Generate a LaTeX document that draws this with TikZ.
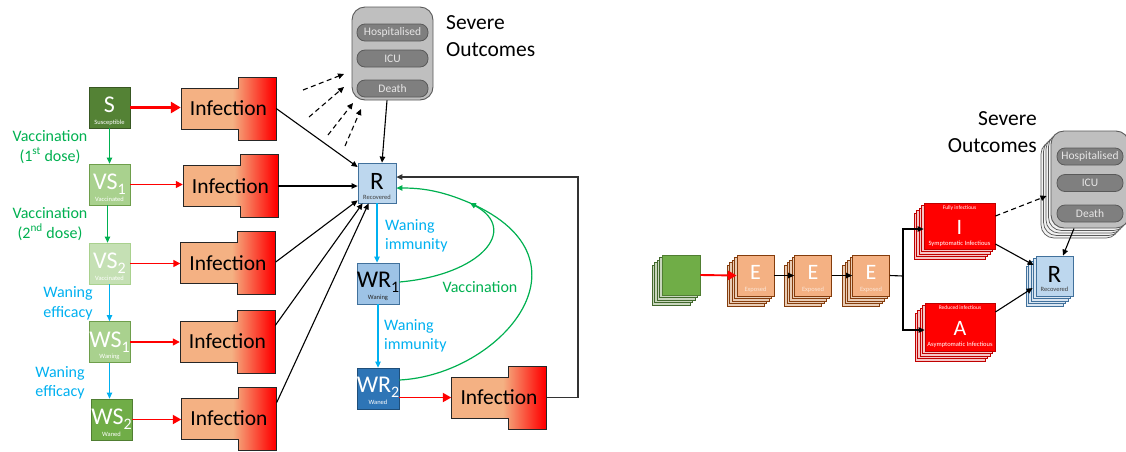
\documentclass[tikz,border=0pt]{standalone}
\usepackage{fontspec}
\setmainfont{Carlito}
\usetikzlibrary{arrows.meta,calc}
\definecolor{vgreen}{HTML}{00B050}
\definecolor{wblue}{HTML}{00B0F0}
\definecolor{infpeach}{HTML}{F4B183}
\definecolor{cS}{HTML}{548235}\definecolor{cSb}{HTML}{385723}
\definecolor{cV1}{HTML}{A9D18E}\definecolor{cV1b}{HTML}{6E9E4B}
\definecolor{cV2}{HTML}{C5E0B4}\definecolor{cV2b}{HTML}{A9D18E}
\definecolor{cW1}{HTML}{A9D18E}
\definecolor{cW2}{HTML}{70AD47}\definecolor{cW2b}{HTML}{507E32}
\definecolor{cR}{HTML}{BDD7EE}\definecolor{cRb}{HTML}{41719C}
\definecolor{cWR1}{HTML}{9DC3E6}
\definecolor{cWR2}{HTML}{2E75B6}\definecolor{cWR2b}{HTML}{1F4E79}
\definecolor{sevfill}{HTML}{BFBFBF}\definecolor{sevdraw}{HTML}{595959}
\definecolor{pillfill}{HTML}{7F7F7F}\definecolor{pilltext}{HTML}{E7E6E6}
\definecolor{ebrown}{HTML}{843C0C}
\definecolor{gstackf}{HTML}{C9D6BD}\definecolor{gstackb}{HTML}{41682C}
\definecolor{estack}{HTML}{E9CDB6}
\definecolor{istack}{HTML}{F6C6C6}\definecolor{ired}{HTML}{C00000}
\definecolor{rstack}{HTML}{DAE6F2}
\definecolor{sevstack}{HTML}{F2F2F2}
\definecolor{etext}{HTML}{FBE5D6}
\pgfdeclarehorizontalshading{infgrad}{100bp}{color(0bp)=(infpeach); color(52bp)=(infpeach); color(74bp)=(red); color(100bp)=(red)}
\newcommand\mysub[1]{\raisebox{-5pt}{\fontsize{16}{16}\selectfont #1}}
\newcommand\infshape[3]{%
  \begin{scope}[shift={(#2,#3)}]
    \shadedraw[shading=infgrad, draw=black!85, line width=0.9pt] (-47.5,-20.5) -- (9.5,-20.5) -- (9.5,-31.5) -- (47.5,-31.5) -- (47.5,31.5) -- (9.5,31.5) -- (9.5,20.5) -- (-47.5,20.5) -- cycle;
  \end{scope}
  \node[infn] (#1) at (#2,#3) {Infection};}
\newcommand\stk[5]{%
  \foreach \k in {4,3,2,1}{\path[#5] ({#1-2.5*\k-#3/2},{#2+2.5*\k-#4/2}) rectangle ({#1-2.5*\k+#3/2},{#2+2.5*\k+#4/2});}}
\begin{document}
\begin{tikzpicture}[x=1pt,y=-1pt,
  box/.style={draw, line width=0.8pt, minimum width=41pt, minimum height=41pt, inner sep=0pt},
  bigl/.style={font=\fontsize{24}{24}\selectfont, inner sep=0pt, anchor=base},
  tinyl/.style={font=\fontsize{6.5}{7}\selectfont, inner sep=0pt, anchor=base},
  lbl/.style={font=\fontsize{16}{19.5}\selectfont, align=center, inner sep=0pt},
  infn/.style={minimum width=95pt, minimum height=41pt, inner sep=0pt, font=\fontsize{21.5}{24}\selectfont},
  redarr/.style={draw=red, line width=1.4pt, -{Triangle[length=7pt,width=7pt]}},
  redthick/.style={draw=red, line width=2.6pt, -{Triangle[length=10pt,width=11pt]}},
  redmid/.style={draw=red, line width=1.9pt, -{Triangle[length=8.5pt,width=9pt]}},
  blk/.style={draw=black, line width=1.1pt, -{Triangle[length=6pt,width=5.5pt]}},
  dasharr/.style={draw=black, line width=1.1pt, dash pattern=on 5pt off 3.5pt, -{Triangle[length=6pt,width=5.5pt]}},
  garr/.style={draw=vgreen, line width=1.2pt, -{Triangle[length=6pt,width=5.5pt]}},
  barr/.style={draw=wblue, line width=1.2pt, -{Triangle[length=6pt,width=5.5pt]}},
  sev/.style={draw=sevdraw, fill=sevfill, line width=0.9pt, rounded corners=13pt, inner sep=0pt},
  pill/.style={draw=sevdraw, fill=pillfill, line width=0.8pt, rounded corners=8pt, minimum height=17pt, inner sep=0pt, text=pilltext, font=\fontsize{11.5}{12}\selectfont},
  sevt/.style={font=\fontsize{21.5}{27}\selectfont, inner sep=0pt},
]
\useasboundingbox (0,0) rectangle (1126,451);

% ---------- left panel: compartments ----------
\node[box, fill=cS, draw=cSb] (S) at (109.5,107.5) {};
\node[bigl, text=white] (Sl) at ([yshift=-4.5pt]S.center) {S};
\node[tinyl, text=white] (St) at ([yshift=4pt]S.south) {Susceptible};

\node[box, fill=cV1, draw=cV1b] (VS1) at (109.5,184.5) {};
\node[bigl, text=white] (VS1l) at ([yshift=-5pt]VS1.center) {VS\mysub{1}};
\node[tinyl, text=white] (VS1t) at ([yshift=4pt]VS1.south) {Vaccinated};

\node[box, fill=cV2, draw=cV2b] (VS2) at (109.5,263.5) {};
\node[bigl, text=white] (VS2l) at ([yshift=-5pt]VS2.center) {VS\mysub{2}};
\node[tinyl, text=white] (VS2t) at ([yshift=4pt]VS2.south) {Vaccinated};

\node[box, fill=cW1, draw=cV1b] (WS1) at (109.5,342) {};
\node[bigl, text=white] (WS1l) at ([yshift=-5pt]WS1.center) {WS\mysub{1}};
\node[tinyl, text=white] (WS1t) at ([yshift=4pt]WS1.south) {Waning};

\node[box, fill=cW2, draw=cW2b] (WS2) at (111.5,419.5) {};
\node[bigl, text=white] (WS2l) at ([yshift=-5pt]WS2.center) {WS\mysub{2}};
\node[tinyl, text=white] (WS2t) at ([yshift=4pt]WS2.south) {Waned};

\node[box, minimum width=38pt, minimum height=40pt, fill=cR, draw=cRb] (R) at (377,183) {};
\node[bigl, font=\fontsize{25}{25}\selectfont] (Rl) at ([yshift=-6pt]R.center) {R};
\node[tinyl, text=black!75] (Rt) at ([yshift=3.5pt]R.south) {Recovered};

\node[box, minimum width=42pt, fill=cWR1, draw=cRb] (WR1) at (378,283.5) {};
\node[bigl] (WR1l) at ([yshift=-3.5pt]WR1.center) {WR\mysub{1}};
\node[tinyl, text=black!85] (WR1t) at ([yshift=4.5pt]WR1.south) {Waning};

\node[box, minimum width=42pt, fill=cWR2, draw=cWR2b] (WR2) at (378,388.5) {};
\node[bigl, text=white] (WR2l) at ([yshift=-3.5pt]WR2.center) {WR\mysub{2}};
\node[tinyl, text=white] (WR2t) at ([yshift=4.5pt]WR2.south) {Waned};

% severe outcomes (left)
\node[sev, minimum width=81pt, minimum height=93pt] (sev1) at (392.5,53.5) {};
\node[pill, minimum width=71pt] (h1) at (392.5,32.5) {Hospitalised};
\node[pill, minimum width=71pt] (i1) at (392.5,58.5) {ICU};
\node[pill, minimum width=71pt] (d1) at (392.5,88.5) {Death};
\node[sevt, anchor=west, align=left] (sevlab1) at (446,36.5) {Severe\\Outcomes};

% infections
\infshape{inf1}{228.5}{108.5}
\infshape{inf2}{230.5}{186}
\infshape{inf3}{228}{263}
\infshape{inf4}{227.5}{341.5}
\infshape{inf5}{229}{418.5}
\infshape{inf6}{499}{397.5}

% labels
\node[lbl, text=vgreen] (v1) at (50,147) {Vaccination\\(1\textsuperscript{st} dose)};
\node[lbl, text=vgreen] (v2) at (50,224) {Vaccination\\(2\textsuperscript{nd} dose)};
\node[lbl, text=wblue] (we1) at (68,303.5) {Waning\\efficacy};
\node[lbl, text=wblue] (we2) at (60,383) {Waning\\efficacy};
\node[lbl, text=wblue, anchor=west, align=left] (wi1) at (385,236) {Waning\\immunity};
\node[lbl, text=wblue, anchor=west, align=left] (wi2) at (384,336) {Waning\\immunity};
\node[lbl, text=vgreen] (vlab) at (480,287) {Vaccination};

% arrows left
\draw[redthick] (S.east) -- (S.east -| inf1.west);
\draw[redarr] (VS1.east) -- (VS1.east -| inf2.west);
\draw[redarr] (VS2.east) -- (VS2.east -| inf3.west);
\draw[redarr] (WS1.east) -- (WS1.east -| inf4.west);
\draw[redmid] (WS2.east) -- (WS2.east -| inf5.west);
\draw[redmid] (WR2.east |- inf6.west) -- (inf6.west);

\draw[garr] (S.south) -- (VS1.north);
\draw[garr] ([xshift=-2pt]VS1.south) -- ([xshift=-2pt]VS2.north);
\draw[barr] (VS2.south) -- (WS1.north);
\draw[barr] (WS1.south) -- (WS1.south |- WS2.north);
\draw[barr] (R.south) -- (R.south |- WR1.north);
\draw[barr] (WR1.south) -- (WR1.south |- WR2.north);

\draw[blk] (inf1.east) -- ([yshift=16pt]R.west);
\draw[blk] (inf2.east) -- (R.west |- inf2.east);
\draw[blk] ([yshift=1pt]inf3.east) -- ([yshift=3pt]R.south west);
\draw[blk] ([yshift=16pt]inf4.east) -- ([xshift=5pt]R.south west);
\draw[blk] ([yshift=16pt]inf5.east) -- ([xshift=11pt]R.south west);
\draw[blk] ([xshift=-5.5pt]sev1.south) -- ([xshift=5pt]R.north);

\coordinate (d1a) at (303,90); \coordinate (d1b) at (344,74);
\coordinate (d2a) at (309,117); \coordinate (d2b) at (344,87);
\coordinate (d3a) at (328,135); \coordinate (d3b) at (353,103);
\coordinate (d4a) at (345,146); \coordinate (d4b) at (361,109);
\draw[dasharr] (d1a) -- (d1b);
\draw[dasharr] (d2a) -- (d2b);
\draw[dasharr] (d3a) -- (d3b);
\draw[dasharr] (d4a) -- (d4b);

\coordinate (loopc) at (578,177);
\draw[blk, draw=black!80, line width=1.3pt] (inf6.east) -| (loopc) -- ([yshift=6pt]R.east);

\coordinate (vm) at (470,203);
\draw[garr] ([yshift=8.5pt]WR2.east) .. controls (500,375) and (600,260) .. (vm) .. controls (440,190) and (420,188) .. ([yshift=-5pt]R.east);
\draw[garr] ([yshift=1.5pt]WR1.east) .. controls (480,275) and (520,230) .. (vm);

% ---------- right panel ----------
\stk{681}{275}{38}{40}{draw=gstackb, fill=gstackf, line width=0.7pt}
\node[box, minimum width=38pt, minimum height=40pt, fill=cW2, draw=cW2b] (G) at (681,275) {};

\stk{755.5}{275.5}{37}{41}{draw=ebrown, fill=estack, line width=0.7pt}
\node[box, minimum width=37pt, fill=infpeach, draw=ebrown] (E1) at (755.5,275.5) {};
\node[bigl, font=\fontsize{22}{22}\selectfont, text=white] (E1l) at ([yshift=-3.5pt]E1.center) {E};
\node[tinyl, text=etext] (E1t) at ([yshift=5pt]E1.south) {Exposed};

\stk{813}{275.5}{37}{41}{draw=ebrown, fill=estack, line width=0.7pt}
\node[box, minimum width=37pt, fill=infpeach, draw=ebrown] (E2) at (813,275.5) {};
\node[bigl, font=\fontsize{22}{22}\selectfont, text=white] (E2l) at ([yshift=-3.5pt]E2.center) {E};
\node[tinyl, text=etext] (E2t) at ([yshift=5pt]E2.south) {Exposed};

\stk{871}{275.5}{37}{41}{draw=ebrown, fill=estack, line width=0.7pt}
\node[box, minimum width=37pt, fill=infpeach, draw=ebrown] (E3) at (871,275.5) {};
\node[bigl, font=\fontsize{22}{22}\selectfont, text=white] (E3l) at ([yshift=-3.5pt]E3.center) {E};
\node[tinyl, text=etext] (E3t) at ([yshift=5pt]E3.south) {Exposed};

\stk{959.5}{226}{71}{46}{draw=ired, fill=istack, line width=0.7pt}
\node[box, minimum width=71pt, minimum height=46pt, fill=red, draw=ired] (I) at (959.5,226) {};
\node[tinyl, font=\fontsize{5.5}{6}\selectfont, text=white] (It1) at ([yshift=-7pt]I.north) {Fully infectious};
\node[bigl, font=\fontsize{22}{22}\selectfont, text=white] (Il) at ([yshift=-8pt]I.center) {I};
\node[tinyl, text=white] (It2) at ([yshift=3.5pt]I.south) {Symptomatic Infectious};

\stk{960}{327}{70}{48}{draw=ired, fill=istack, line width=0.7pt}
\node[box, minimum width=70pt, minimum height=48pt, fill=red, draw=ired] (A) at (960,327) {};
\node[tinyl, font=\fontsize{5.5}{6}\selectfont, text=white] (At1) at ([yshift=-7pt]A.north) {Reduced infectious};
\node[bigl, font=\fontsize{22}{22}\selectfont, text=white] (Al) at ([yshift=-8pt]A.center) {A};
\node[tinyl, text=white] (At2) at ([yshift=5pt]A.south) {Asymptomatic Infectious};

\stk{1054.5}{276}{37}{40}{draw=cRb, fill=rstack, line width=0.7pt}
\node[box, minimum width=37pt, minimum height=40pt, fill=cR, draw=cRb] (R2) at (1054.5,276) {};
\node[bigl, font=\fontsize{25}{25}\selectfont] (R2l) at ([yshift=-6pt]R2.center) {R};
\node[tinyl, text=black!75] (R2t) at ([yshift=5pt]R2.south) {Recovered};

\stk{1090}{179.5}{78}{97}{draw=sevdraw, fill=sevstack, rounded corners=13pt, line width=0.7pt}
\node[sev, minimum width=78pt, minimum height=97pt] (sev2) at (1090,179.5) {};
\node[pill, minimum width=66pt] (h2) at (1090,156.5) {Hospitalised};
\node[pill, minimum width=66pt] (i2) at (1090,183) {ICU};
\node[pill, minimum width=66pt] (d2) at (1090,213.5) {Death};
\node[sevt, anchor=east, align=right] (sevlab2) at (1037,132) {Severe\\Outcomes};

\draw[redmid] (G.east) -- (E1.west);
\draw[blk] (E1.east) -- (E2.west);
\draw[blk] (E2.east) -- (E3.west);
\coordinate (split) at (903,276);
\draw[line width=1.1pt] (E3.east) -- (split);
\draw[blk] (split) |- ([yshift=-3pt]I.west);
\draw[blk] (split) |- ([yshift=-3pt]A.west);
\draw[dasharr] ([yshift=10pt]I.east) -- ([xshift=-4pt,yshift=-16.5pt]sev2.west);
\draw[blk] ([yshift=-18pt]I.east) -- ([xshift=-2pt,yshift=11pt]R2.west);
\draw[blk] ([yshift=15pt]A.east) -- ([xshift=-3pt,yshift=-12pt]R2.west);
\draw[blk] ([xshift=-16pt]sev2.south) -- ([xshift=8.5pt]R2.north);
\end{tikzpicture}
\end{document}
